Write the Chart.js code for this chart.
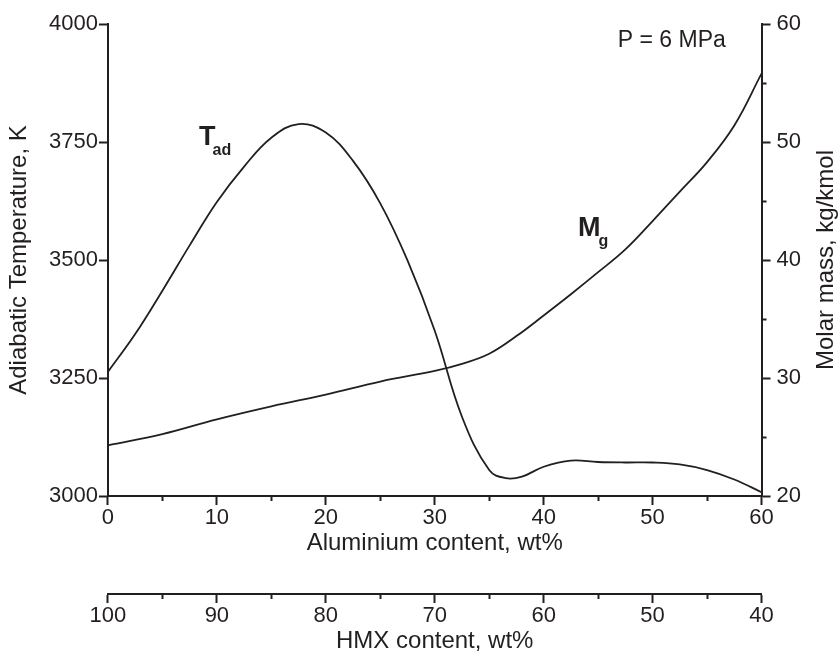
<!DOCTYPE html>
<html>
<head>
<meta charset="utf-8">
<title>Tad and Mg vs aluminium content</title>
<script src="https://cdn.jsdelivr.net/npm/chart.js@4/dist/chart.umd.min.js"></script>
<style>
  html, body { margin: 0; padding: 0; background: #fff; }
  #wrap { width: 839px; height: 653px; position: relative; }
</style>
</head>
<body>
<div id="wrap"><canvas id="myChart"></canvas></div>
<script>
// adiabatic temperature, K (left axis)
const alTad = [0, 2.5, 5, 7.5, 10, 12.5, 15, 17.5, 20, 22.5, 25, 27.5, 30, 32.5, 35, 36.5, 38, 40, 42.5, 45, 47.5, 50, 52.5, 55, 57.5, 60];
const tad = [3263, 3343, 3435, 3531, 3623, 3698, 3759, 3788, 3770, 3710, 3620, 3499, 3350, 3168, 3055, 3038, 3041, 3062, 3075, 3072, 3071, 3071, 3067, 3055, 3035, 3008];

// molar mass of gases, kg/kmol (right axis)
const alMg = [0, 5, 10, 15, 20, 25, 30, 32.5, 35, 37.5, 40, 42.5, 45, 47.5, 50, 52.5, 55, 57.5, 60];
const mg = [24.3, 25.25, 26.5, 27.6, 28.6, 29.7, 30.6, 31.2, 32.05, 33.55, 35.3, 37.1, 38.97, 40.9, 43.3, 45.8, 48.3, 51.4, 55.8];

const ink = '#231f20';
const fam = '"Liberation Sans", Arial, sans-serif';
const tickFont = { family: fam, size: 22, lineHeight: 1 };
const titleFont = { family: fam, size: 24, lineHeight: 1 };

Chart.defaults.color = ink;
Chart.defaults.font.family = fam;

const majorOnly = c => (c.tick && c.tick.value % 10 === 0) ? ink : 'rgba(0,0,0,0)';
const tenths = v => (v % 10 === 0 ? String(v) : '');

// short minor ticks, right-hand title and curve labels
const extras = {
  id: 'extras',
  afterDraw(chart) {
    const ctx = chart.ctx;
    const { x, x2, y, y1 } = chart.scales;
    ctx.save();
    ctx.strokeStyle = ink;
    ctx.lineWidth = 2;
    [x, x2].forEach(s => {
      s.ticks.forEach(t => {
        if (t.value % 10 === 0) return;
        const px = Math.round(s.getPixelForValue(t.value)) + 0.5;
        ctx.beginPath();
        ctx.moveTo(px, s.top);
        ctx.lineTo(px, s.top + 5);
        ctx.stroke();
      });
    });
    y1.ticks.forEach(t => {
      if (t.value % 10 === 0) return;
      const py = Math.round(y1.getPixelForValue(t.value)) + 0.5;
      ctx.beginPath();
      ctx.moveTo(y1.left, py);
      ctx.lineTo(y1.left + 5, py);
      ctx.stroke();
    });

    ctx.fillStyle = ink;

    // right axis title, reading bottom to top
    ctx.save();
    ctx.translate(833, (y1.top + y1.bottom) / 2);
    ctx.rotate(-Math.PI / 2);
    ctx.font = '24px ' + fam;
    ctx.textAlign = 'center';
    ctx.textBaseline = 'alphabetic';
    ctx.fillText('Molar mass, kg/kmol', 0, 0);
    ctx.restore();

    ctx.textAlign = 'left';
    ctx.textBaseline = 'alphabetic';

    // P = 6 MPa
    ctx.font = '23px ' + fam;
    ctx.fillText('P = 6 MPa', x.getPixelForValue(46.8), y.getPixelForValue(3951));

    // T_ad and M_g
    const drawSub = (main, sub, px, py, dx) => {
      ctx.font = 'bold 27px ' + fam;
      ctx.fillText(main, px, py);
      const w = ctx.measureText(main).width;
      ctx.font = 'bold 16px ' + fam;
      ctx.fillText(sub, px + w + dx, py + 10);
    };
    drawSub('T', 'ad', x.getPixelForValue(8.37), y.getPixelForValue(3744), -3);
    drawSub('M', 'g', x.getPixelForValue(43.16), y1.getPixelForValue(42.0), -2);

    ctx.restore();
  }
};

const ctx = document.getElementById('myChart').getContext('2d');
const myChart = new Chart(ctx, {
  type: 'line',
  data: {
    datasets: [{
      label: 'Tad',
      data: alTad.map((v, i) => ({ x: v, y: tad[i] })),
      yAxisID: 'y',
      borderColor: ink,
      borderWidth: 1.8,
      pointRadius: 0,
      tension: 0.4,
      fill: false
    }, {
      label: 'Mg',
      data: alMg.map((v, i) => ({ x: v, y: mg[i] })),
      yAxisID: 'y1',
      borderColor: ink,
      borderWidth: 1.8,
      pointRadius: 0,
      tension: 0.4,
      fill: false
    }]
  },
  options: {
    responsive: true,
    maintainAspectRatio: false,
    animation: false,
    layout: { padding: { top: 24, left: 7, right: 32, bottom: 0 } },
    plugins: { legend: { display: false }, tooltip: { enabled: false } },
    scales: {
      x: {
        type: 'linear',
        position: 'bottom',
        min: 0, max: 60,
        weight: 0,
        ticks: { stepSize: 5, callback: tenths, font: tickFont, color: ink, padding: 2, maxRotation: 0, autoSkip: false },
        grid: { drawOnChartArea: false, tickLength: 9, tickWidth: 2, tickColor: majorOnly },
        border: { display: true, color: ink, width: 2 },
        title: { display: true, text: 'Aluminium content, wt%', font: titleFont, color: ink, padding: { top: 0, bottom: 39 } }
      },
      x2: {
        type: 'linear',
        axis: 'x',
        position: 'bottom',
        min: 40, max: 100,
        reverse: true,
        weight: 1,
        ticks: { stepSize: 5, callback: tenths, font: tickFont, color: ink, padding: 2, maxRotation: 0, autoSkip: false },
        grid: { drawOnChartArea: false, tickLength: 9, tickWidth: 2, tickColor: majorOnly },
        border: { display: true, color: ink, width: 2 },
        title: { display: true, text: 'HMX content, wt%', font: titleFont, color: ink, padding: { top: 0, bottom: 0 } }
      },
      y: {
        type: 'linear',
        position: 'left',
        min: 3000, max: 4000,
        ticks: { stepSize: 250, callback: v => String(v), font: tickFont, color: ink, padding: 1 },
        grid: { drawOnChartArea: false, tickLength: 9, tickWidth: 2, tickColor: ink },
        border: { display: true, color: ink, width: 2 },
        title: { display: true, text: 'Adiabatic Temperature, K', font: titleFont, color: ink, padding: { top: 0, bottom: 17 } }
      },
      y1: {
        type: 'linear',
        position: 'right',
        min: 20, max: 60,
        ticks: { stepSize: 5, callback: tenths, font: tickFont, color: ink, padding: 6 },
        grid: { drawOnChartArea: false, tickLength: 9, tickWidth: 2, tickColor: majorOnly },
        border: { display: true, color: ink, width: 2 }
      }
    }
  },
  plugins: [extras]
});
</script>
</body>
</html>
